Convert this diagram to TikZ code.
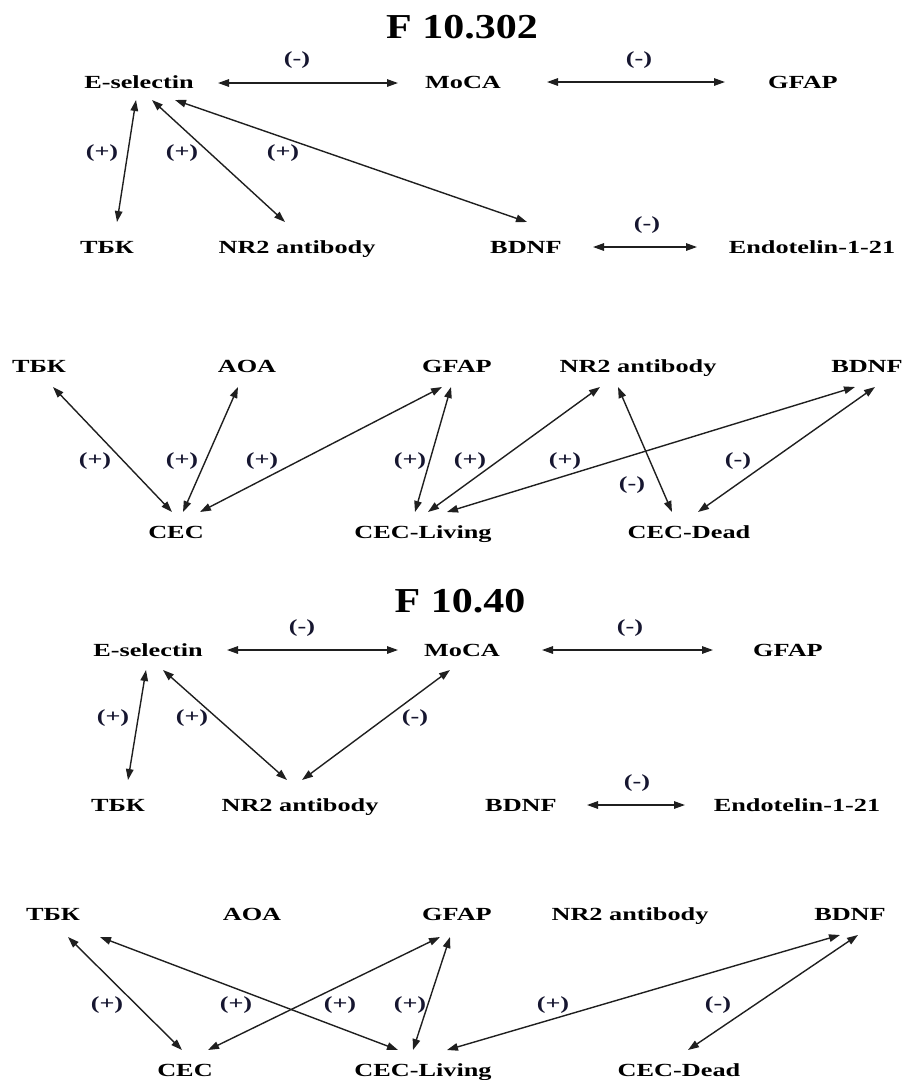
\documentclass[tikz,border=0pt]{standalone}
\usepackage{fontspec}
\usetikzlibrary{calc,arrows.meta}
\newfontfamily\diagfont{Liberation Serif}[FakeStretch=1.42]
\newfontfamily\headfont{Liberation Serif}[FakeStretch=1.2]

\begin{document}
\begin{tikzpicture}[x=1pt,y=-1pt,
    var/.style={font=\diagfont\fontsize{18.5}{20}\selectfont\bfseries, inner sep=0pt, text height=12pt, text depth=0pt},
    sgn/.style={font=\diagfont\fontsize{18.5}{20}\selectfont\bfseries, text=signcol, inner sep=0pt},
    head/.style={font=\headfont\fontsize{35}{38}\selectfont\bfseries, inner sep=0pt},
    rel/.style={{Triangle[length=11pt,width=7.5pt]}-{Triangle[length=11pt,width=7.5pt]}, line width=1.4pt, draw=black!88}]
  \definecolor{signcol}{RGB}{22,22,48}
  \useasboundingbox (0,0) rectangle (903,1080);

  %%%%% F 10.302 %%%%%
  \node[head] (t1) at (462,27) {F 10.302};

  \node[var] (es1) at (139,82) {E-selectin};
  \node[var] (moca1) at (463,82) {MoCA};
  \node[var] (gfap1) at (803,82) {GFAP};
  \node[var] (tbk1) at (107,247) {ТБК};
  \node[var] (nr1) at (297,247) {NR2 antibody};
  \node[var] (bdnf1) at (526,247) {BDNF};
  \node[var] (endo1) at (812,247) {Endotelin-1-21};

  \draw[rel] ($(es1)+(79,1)$) -- ($(moca1)+(-65,1)$);
  \draw[rel] ($(moca1)+(84,0)$) -- ($(gfap1)+(-78,0)$);
  \draw[rel] ($(bdnf1)+(67,0)$) -- ($(endo1)+(-115,0)$);
  \draw[rel] ($(es1)+(-3,18)$) -- ($(tbk1)+(10,-25)$);
  \draw[rel] ($(es1)+(13,18)$) -- ($(nr1)+(-12,-25)$);
  \draw[rel] ($(es1)+(36,18)$) -- ($(bdnf1)+(1,-25)$);

  \node[sgn] (s1a) at (297,60) {(-)};
  \node[sgn] (s1b) at (639,60) {(-)};
  \node[sgn] (s1c) at (647,225) {(-)};
  \node[sgn] (s1d) at (102,153) {(+)};
  \node[sgn] (s1e) at (182,153) {(+)};
  \node[sgn] (s1f) at (283,153) {(+)};

  %%%%% CEC 1 %%%%%
  \node[var] (tbk2) at (39,366) {ТБК};
  \node[var] (aoa2) at (247,366) {AOA};
  \node[var] (gfap2) at (457,366) {GFAP};
  \node[var] (nr2) at (638,366) {NR2 antibody};
  \node[var] (bdnf2) at (867,366) {BDNF};
  \node[var] (cec2) at (176,532) {CEC};
  \node[var] (live2) at (423,532) {CEC-Living};
  \node[var] (dead2) at (689,532) {CEC-Dead};

  \draw[rel] ($(tbk2)+(14,21)$) -- ($(cec2)+(-4,-20)$);
  \draw[rel] ($(aoa2)+(-9,21)$) -- ($(cec2)+(7,-20)$);
  \draw[rel] ($(gfap2)+(-15,21)$) -- ($(cec2)+(24,-20)$);
  \draw[rel] ($(gfap2)+(-6,21)$) -- ($(live2)+(-8,-20)$);
  \draw[rel] ($(nr2)+(-38,21)$) -- ($(live2)+(5,-20)$);
  \draw[rel] ($(bdnf2)+(-12,21)$) -- ($(live2)+(24,-20)$);
  \draw[rel] ($(nr2)+(-20,21)$) -- ($(dead2)+(-17,-20)$);
  \draw[rel] ($(bdnf2)+(8,21)$) -- ($(dead2)+(9,-20)$);

  \node[sgn] (s2a) at (95,461) {(+)};
  \node[sgn] (s2b) at (182,461) {(+)};
  \node[sgn] (s2c) at (262,461) {(+)};
  \node[sgn] (s2d) at (410,461) {(+)};
  \node[sgn] (s2e) at (470,461) {(+)};
  \node[sgn] (s2f) at (565,461) {(+)};
  \node[sgn] (s2g) at (632,485) {(-)};
  \node[sgn] (s2h) at (738,461) {(-)};

  %%%%% F 10.40 %%%%%
  \node[head] (t2) at (460,601) {F 10.40};

  \node[var] (es3) at (148,650) {E-selectin};
  \node[var] (moca3) at (462,650) {MoCA};
  \node[var] (gfap3) at (788,650) {GFAP};
  \node[var] (tbk3) at (118,805) {ТБК};
  \node[var] (nr3) at (300,805) {NR2 antibody};
  \node[var] (bdnf3) at (521,805) {BDNF};
  \node[var] (endo3) at (797,805) {Endotelin-1-21};

  \draw[rel] ($(es3)+(79,0)$) -- ($(moca3)+(-64,0)$);
  \draw[rel] ($(moca3)+(80,0)$) -- ($(gfap3)+(-75,0)$);
  \draw[rel] ($(bdnf3)+(66,0)$) -- ($(endo3)+(-112,0)$);
  \draw[rel] ($(es3)+(-2,20)$) -- ($(tbk3)+(10,-25)$);
  \draw[rel] ($(es3)+(15,20)$) -- ($(nr3)+(-13,-25)$);
  \draw[rel] ($(moca3)+(-12,20)$) -- ($(nr3)+(2,-25)$);

  \node[sgn] (s3a) at (302,628) {(-)};
  \node[sgn] (s3b) at (630,628) {(-)};
  \node[sgn] (s3c) at (637,783) {(-)};
  \node[sgn] (s3d) at (113,718) {(+)};
  \node[sgn] (s3e) at (192,718) {(+)};
  \node[sgn] (s3f) at (415,718) {(-)};

  %%%%% CEC 2 %%%%%
  \node[var] (tbk4) at (53,914) {ТБК};
  \node[var] (aoa4) at (252,914) {AOA};
  \node[var] (gfap4) at (457,914) {GFAP};
  \node[var] (nr4) at (630,914) {NR2 antibody};
  \node[var] (bdnf4) at (850,914) {BDNF};
  \node[var] (cec4) at (185,1070) {CEC};
  \node[var] (live4) at (423,1070) {CEC-Living};
  \node[var] (dead4) at (679,1070) {CEC-Dead};

  \draw[rel] ($(tbk4)+(15,23)$) -- ($(cec4)+(-3,-20)$);
  \draw[rel] ($(tbk4)+(47,23)$) -- ($(live4)+(-25,-20)$);
  \draw[rel] ($(gfap4)+(-17,23)$) -- ($(cec4)+(23,-20)$);
  \draw[rel] ($(gfap4)+(-7,23)$) -- ($(live4)+(-10,-20)$);
  \draw[rel] ($(bdnf4)+(-10,21)$) -- ($(live4)+(24,-20)$);
  \draw[rel] ($(bdnf4)+(8,21)$) -- ($(dead4)+(9,-20)$);

  \node[sgn] (s4a) at (107,1005) {(+)};
  \node[sgn] (s4b) at (236,1005) {(+)};
  \node[sgn] (s4c) at (340,1005) {(+)};
  \node[sgn] (s4d) at (410,1005) {(+)};
  \node[sgn] (s4e) at (553,1005) {(+)};
  \node[sgn] (s4f) at (718,1005) {(-)};
\end{tikzpicture}
\end{document}
